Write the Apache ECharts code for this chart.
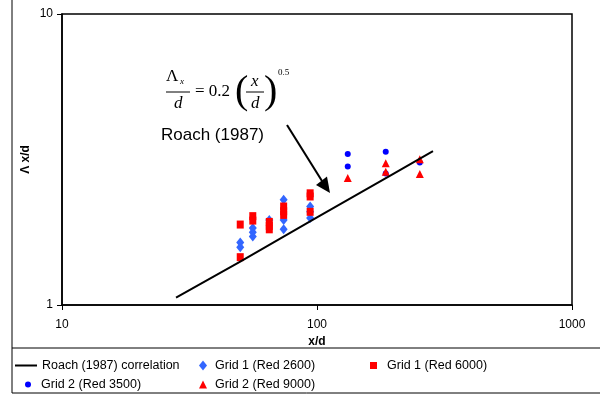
<!DOCTYPE html>
<html>
<head>
<meta charset="utf-8">
<script src="https://cdn.jsdelivr.net/npm/echarts@6/dist/echarts.min.js"></script>
<style>
  html, body { margin: 0; padding: 0; background: #fff; }
  #chart { width: 600px; height: 398px; }
</style>
</head>
<body>
<div id="chart"></div>
<script>
// Roach (1987) correlation
const roachLine = [[28, 1.06], [50, 1.41], [100, 2.0], [200, 2.83], [285, 3.38]];

// Grid 1 (Red 2600) - blue diamonds
const grid1Red2600 = [
    [50, 1.58], [50, 1.64],
    [56, 1.72], [56, 1.78], [56, 1.84],
    [65, 1.96],
    [74, 2.30], [74, 1.96], [74, 1.82],
    [94, 2.18], [94, 2.09], [94, 1.99]
];

// Grid 1 (Red 6000) - red squares
const grid1Red6000 = [
    [50, 1.89], [50, 1.46],
    [56, 2.02], [56, 1.95],
    [65, 1.93], [65, 1.87], [65, 1.82],
    [74, 2.18], [74, 2.10], [74, 2.04],
    [94, 2.42], [94, 2.36], [94, 2.09]
];

// Grid 2 (Red 3500) - blue dots
const grid2Red3500 = [[132, 3.30], [132, 2.99], [186, 3.36], [186, 2.83], [253, 3.09]];

// Grid 2 (Red 9000) - red triangles
const grid2Red9000 = [[132, 2.73], [186, 3.07], [186, 2.87], [253, 3.17], [253, 2.82]];

const font = 'Liberation Sans, Arial, Helvetica, sans-serif';
const serif = 'Liberation Serif, Times New Roman, serif';

const chart = echarts.init(document.getElementById('chart'));

// one legend block per entry, so each sits in its own column like the original
const legendItem = (name, icon, left, top, w, h, pad) => ({
    data: [{ name, icon }],
    left, top, padding: 0,
    itemWidth: w, itemHeight: h,
    textStyle: { color: '#000', fontSize: 12.5, fontFamily: font, padding: [0, 0, 0, pad] }
});

chart.setOption({
    animation: false,
    backgroundColor: '#fff',
    grid: {
        left: 62, right: 28, top: 14, bottom: 93,
        show: true, borderColor: '#000', borderWidth: 1.5
    },
    xAxis: {
        type: 'log', logBase: 10, min: 10, max: 1000,
        name: 'x/d', nameLocation: 'middle', nameGap: 28,
        nameTextStyle: { color: '#000', fontSize: 12, fontWeight: 'bold', fontFamily: font },
        axisLine: { lineStyle: { color: '#000', width: 1.5 } },
        axisTick: { show: true, length: 5, lineStyle: { color: '#000' } },
        axisLabel: { color: '#000', fontSize: 12, fontFamily: font, margin: 14, formatter: v => String(v) },
        splitLine: { show: false }
    },
    yAxis: {
        type: 'log', logBase: 10, min: 1, max: 10,
        name: 'Λ x/d', nameLocation: 'middle', nameGap: 30, nameRotate: 90,
        nameMoveOverlap: false,
        nameTextStyle: { color: '#000', fontSize: 12, fontWeight: 'bold', fontFamily: font },
        axisLine: { lineStyle: { color: '#000', width: 1.5 } },
        axisTick: { show: true, length: 5, lineStyle: { color: '#000' } },
        axisLabel: { color: '#000', fontSize: 12, fontFamily: font, margin: 9, formatter: v => String(v) },
        splitLine: { show: false }
    },
    legend: [
        legendItem('Roach (1987) correlation', 'rect', 15, 359, 22, 2, 0),
        legendItem('Grid 2 (Red 3500)', 'circle', 25, 378, 6, 6, 5),
        legendItem('Grid 1 (Red 2600)', 'diamond', 199, 359, 8, 10, 3),
        legendItem('Grid 2 (Red 9000)', 'triangle', 199, 378, 8, 8, 3),
        legendItem('Grid 1 (Red 6000)', 'rect', 370, 359, 7, 7, 5)
    ],
    series: [
        {
            name: 'Roach (1987) correlation', type: 'line', data: roachLine,
            symbol: 'none', lineStyle: { color: '#000', width: 2 }, itemStyle: { color: '#000' }
        },
        {
            name: 'Grid 1 (Red 2600)', type: 'scatter', data: grid1Red2600,
            symbol: 'diamond', symbolSize: [8, 10], itemStyle: { color: '#3366ff', opacity: 1 }
        },
        {
            name: 'Grid 1 (Red 6000)', type: 'scatter', data: grid1Red6000,
            symbol: 'rect', symbolSize: [7, 8], itemStyle: { color: '#ff0000', opacity: 1 }
        },
        {
            name: 'Grid 2 (Red 3500)', type: 'scatter', data: grid2Red3500,
            symbol: 'circle', symbolSize: 6, itemStyle: { color: '#0000ff', opacity: 1 }
        },
        {
            name: 'Grid 2 (Red 9000)', type: 'scatter', data: grid2Red9000,
            symbol: 'triangle', symbolSize: 8, itemStyle: { color: '#ff0000', opacity: 1 }
        }
    ],
    graphic: [
        // outer frame and legend box
        { type: 'rect', shape: { x: 12, y: -2, width: 600, height: 395 }, style: { fill: null, stroke: '#000', lineWidth: 1 }, silent: true },
        { type: 'line', shape: { x1: 12, y1: 348, x2: 600, y2: 348 }, style: { stroke: '#000', lineWidth: 1 } },
        // formula
        { type: 'text', left: 166, top: 68, style: { text: 'Λ', fontSize: 17, fontFamily: serif, fill: '#000' } },
        { type: 'text', left: 180, top: 77, style: { text: 'x', fontSize: 9, fontStyle: 'italic', fontFamily: serif, fill: '#000' } },
        { type: 'line', shape: { x1: 166, y1: 92, x2: 190, y2: 92 }, style: { stroke: '#000', lineWidth: 1 } },
        { type: 'text', left: 174, top: 95, style: { text: 'd', fontSize: 17, fontStyle: 'italic', fontFamily: serif, fill: '#000' } },
        { type: 'text', left: 195, top: 83, style: { text: '= 0.2', fontSize: 17, fontFamily: serif, fill: '#000' } },
        { type: 'text', left: 235, top: 72, style: { text: '(', fontSize: 40, fontFamily: serif, fill: '#000' } },
        { type: 'text', left: 251, top: 73, style: { text: 'x', fontSize: 17, fontStyle: 'italic', fontFamily: serif, fill: '#000' } },
        { type: 'line', shape: { x1: 246, y1: 92, x2: 264, y2: 92 }, style: { stroke: '#000', lineWidth: 1 } },
        { type: 'text', left: 251, top: 95, style: { text: 'd', fontSize: 17, fontStyle: 'italic', fontFamily: serif, fill: '#000' } },
        { type: 'text', left: 264, top: 72, style: { text: ')', fontSize: 40, fontFamily: serif, fill: '#000' } },
        { type: 'text', left: 278, top: 68, style: { text: '0.5', fontSize: 9, fontFamily: serif, fill: '#000' } },
        // label and arrow
        { type: 'text', left: 161, top: 127, style: { text: 'Roach (1987)', fontSize: 17, fontFamily: font, fill: '#000' } },
        { type: 'line', shape: { x1: 287, y1: 125, x2: 322, y2: 181 }, style: { stroke: '#000', lineWidth: 2 } },
        { type: 'polygon', shape: { points: [[316, 185], [327, 176.5], [330, 193]] }, style: { fill: '#000' } }
    ]
});
</script>
</body>
</html>
